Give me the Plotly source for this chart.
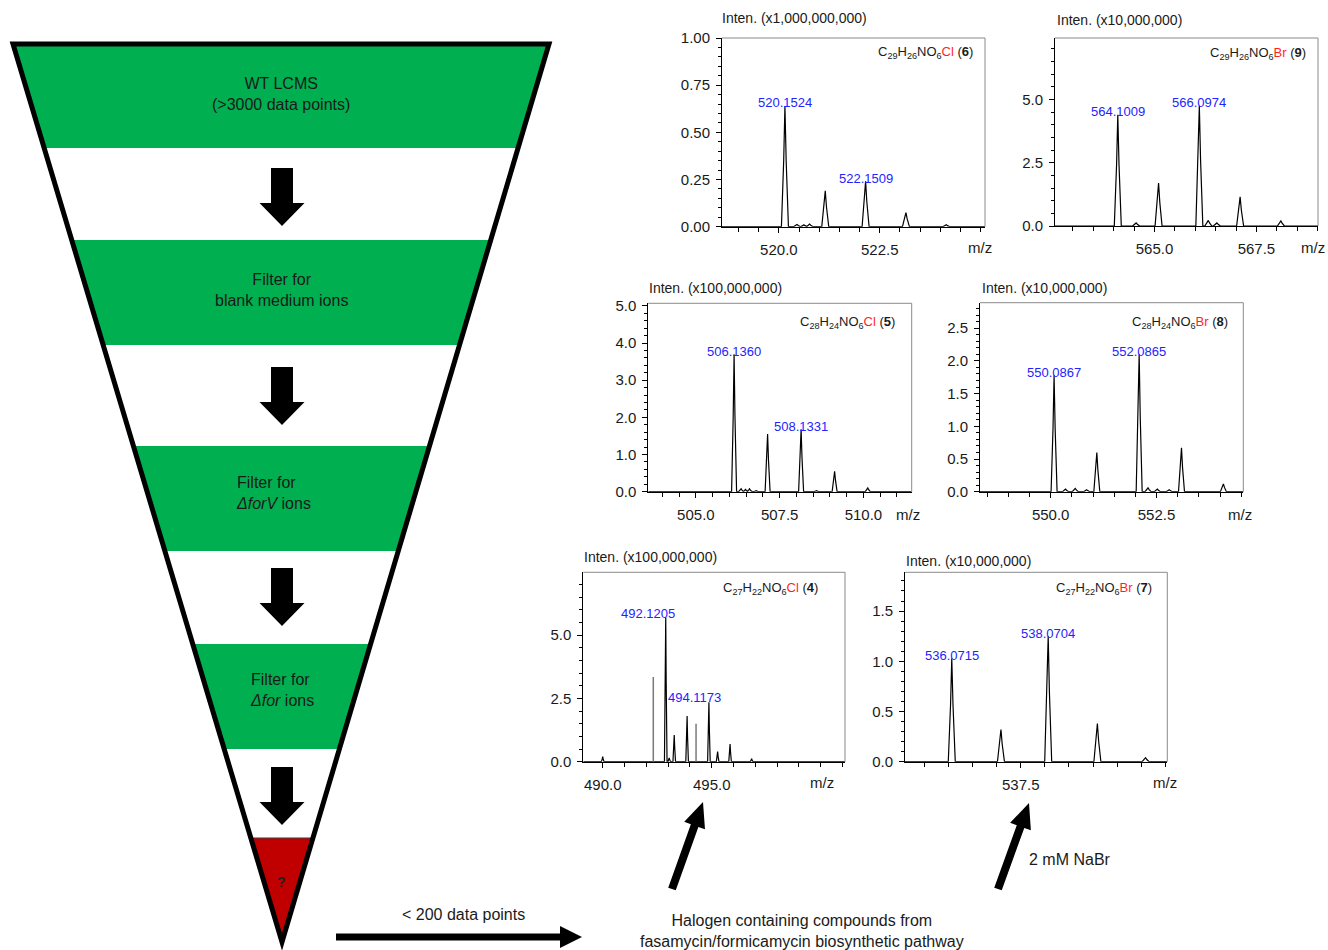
import math
import plotly.graph_objects as go

W, H = 1328, 950
FONT = "Liberation Sans, Arial, Helvetica, sans-serif"

# ---------------- data ----------------
# compound 6 (Cl)  intensity x1,000,000,000
c6_mz = [520.15, 520.45, 520.62, 520.76, 521.15, 522.15, 523.15, 524.15]
c6_int = [0.64, 0.012, 0.010, 0.014, 0.19, 0.24, 0.075, 0.010]
c6_lab = ["520.1524", "522.1509"]
c6_lab_mz = [520.15, 522.15]
c6_lab_int = [0.64, 0.24]

# compound 9 (Br)  intensity x10,000,000
c9_mz = [564.10, 564.55, 565.10, 566.10, 566.32, 566.53, 567.10, 568.10]
c9_int = [4.40, 0.12, 1.70, 4.75, 0.22, 0.12, 1.15, 0.20]
c9_lab = ["564.1009", "566.0974"]
c9_lab_mz = [564.10, 566.10]
c9_lab_int = [4.40, 4.75]

# compound 5 (Cl)  intensity x100,000,000
c5_mz = [506.14, 506.35, 506.48, 506.60, 506.80, 507.14, 508.14, 508.60, 509.14, 510.13]
c5_int = [3.70, 0.08, 0.06, 0.08, 0.03, 1.55, 1.68, 0.03, 0.55, 0.10]
c5_lab = ["506.1360", "508.1331"]
c5_lab_mz = [506.14, 508.14]
c5_lab_int = [3.70, 1.68]

# compound 8 (Br)  intensity x10,000,000
c8_mz = [550.08, 550.35, 550.58, 550.85, 551.09, 552.09, 552.30, 552.52, 552.80, 553.09, 554.08]
c8_int = [1.78, 0.04, 0.05, 0.03, 0.60, 2.10, 0.06, 0.04, 0.03, 0.67, 0.12]
c8_lab = ["550.0867", "552.0865"]
c8_lab_mz = [550.08, 552.09]
c8_lab_int = [1.78, 2.10]

# compound 4 (Cl)  intensity x100,000,000
c4_mz = [490.00, 492.89, 493.05, 493.28, 493.87, 494.87, 495.27, 495.84, 496.83]
c4_int = [0.20, 5.70, 0.15, 1.05, 1.80, 2.35, 0.40, 0.70, 0.12]
c4_stick_mz = [492.32, 494.28]
c4_stick_int = [3.35, 1.50]
c4_lab = ["492.1205", "494.1173"]
c4_lab_mz = [492.07, 494.21]
c4_lab_int = [5.75, 2.42]

# compound 7 (Br)  intensity x10,000,000
c7_mz = [536.07, 537.09, 538.07, 539.09, 540.09]
c7_int = [1.03, 0.32, 1.25, 0.38, 0.04]
c7_lab = ["536.0715", "538.0704"]
c7_lab_mz = [536.07, 538.07]
c7_lab_int = [1.03, 1.25]

scale_texts = ["Inten. (x1,000,000,000)", "Inten. (x10,000,000)", "Inten. (x100,000,000)",
               "Inten. (x10,000,000)", "Inten. (x100,000,000)", "Inten. (x10,000,000)"]
formulas = [("29", "26", "Cl", "6"), ("29", "26", "Br", "9"), ("28", "24", "Cl", "5"),
            ("28", "24", "Br", "8"), ("27", "22", "Cl", "4"), ("27", "22", "Br", "7")]

x_tick_vals = [[520.0, 522.5], [565.0, 567.5], [505.0, 507.5, 510.0],
               [550.0, 552.5], [490.0, 495.0], [537.5]]
y_tick_vals = [[0.00, 0.25, 0.50, 0.75, 1.00], [0.0, 2.5, 5.0], [0.0, 1.0, 2.0, 3.0, 4.0, 5.0],
               [0.0, 0.5, 1.0, 1.5, 2.0, 2.5], [0.0, 2.5, 5.0], [0.0, 0.5, 1.0, 1.5]]
y_tick_fmt = ["{:.2f}", "{:.1f}", "{:.1f}", "{:.1f}", "{:.1f}", "{:.1f}"]

stage_texts = ["WT LCMS<br>(&gt;3000 data points)",
               "Filter for<br>blank medium ions",
               "Filter for<br><i>Δ</i><i>forV</i> ions",
               "Filter for<br><i>Δ</i><i>for</i> ions"]

# ---------------- layout constants (pixels) ----------------
panels = [
    dict(box=(722, 38, 985, 226.7), xr=(518.59, 525.11), yr=(0, 1.0), xminor=0.5, yminor=0.05,
         hw=3.5, scale_pos=(720, 18), mz_pos=(980, 247), f_pos=(975, 52)),
    dict(box=(1055, 38, 1318, 226), xr=(562.56, 569.01), yr=(0, 7.43), xminor=0.5, yminor=0.5,
         hw=3.5, scale_pos=(1055, 20), mz_pos=(1313, 247), f_pos=(1308, 53)),
    dict(box=(648.3, 303.3, 911.7, 491.7), xr=(503.58, 511.44), yr=(0, 5.07), xminor=0.5, yminor=0.2,
         hw=2.5, scale_pos=(647, 288), mz_pos=(908, 514), f_pos=(897, 322)),
    dict(box=(980, 302.7, 1243.3, 491.7), xr=(548.33, 554.55), yr=(0, 2.89), xminor=0.5, yminor=0.1,
         hw=3.0, scale_pos=(980, 288), mz_pos=(1240, 514), f_pos=(1230, 322)),
    dict(box=(583.3, 572.3, 845, 761.7), xr=(489.11, 501.11), yr=(0, 7.48), xminor=1.0, yminor=0.5,
         hw=1.3, scale_pos=(582, 557), mz_pos=(822, 782), f_pos=(820, 588)),
    dict(box=(905, 572.3, 1167.3, 761.7), xr=(535.1, 540.54), yr=(0, 1.886), xminor=0.5, yminor=0.1,
         hw=3.5, scale_pos=(904, 561), mz_pos=(1165, 782), f_pos=(1154, 588)),
]
spectra = [(c6_mz, c6_int), (c9_mz, c9_int), (c5_mz, c5_int),
           (c8_mz, c8_int), (c4_mz, c4_int), (c7_mz, c7_int)]
labels = [(c6_lab, c6_lab_mz, c6_lab_int), (c9_lab, c9_lab_mz, c9_lab_int),
          (c5_lab, c5_lab_mz, c5_lab_int), (c8_lab, c8_lab_mz, c8_lab_int),
          (c4_lab, c4_lab_mz, c4_lab_int), (c7_lab, c7_lab_mz, c7_lab_int)]

GREEN = "#00AF50"
RED = "#C00000"
BLUE = "#2323ff"
TXT = "#1a1a1a"

fig = go.Figure()
layout = dict(width=W, height=H, margin=dict(l=0, r=0, t=0, b=0, pad=0, autoexpand=False),
              paper_bgcolor="white", plot_bgcolor="rgba(0,0,0,0)", showlegend=False,
              font=dict(family=FONT, color=TXT))
shapes = []
annotations = []


def profile(mz, inten, hw, xr):
    pairs = sorted(zip(mz, inten))
    xs, ys = [xr[0]], [0]
    for m, h in pairs:
        xs += [m - hw, m - hw * 0.35, m, m + hw * 0.35, m + hw]
        ys += [0, h * 0.55, h, h * 0.55, 0]
    xs.append(xr[1])
    ys.append(0)
    return xs, ys


for i, (p, (mz, inten)) in enumerate(zip(panels, spectra), start=1):
    xa = "x" if i == 1 else f"x{i}"
    ya = "y" if i == 1 else f"y{i}"
    xkey = "xaxis" if i == 1 else f"xaxis{i}"
    ykey = "yaxis" if i == 1 else f"yaxis{i}"
    L, T, R, B = p["box"]
    px_per_unit = (R - L) / (p["xr"][1] - p["xr"][0])
    hw = p["hw"] / px_per_unit
    xs, ys = profile(mz, inten, hw, p["xr"])
    fig.add_trace(go.Scatter(x=xs, y=ys, mode="lines", line=dict(color="black", width=1.2),
                             xaxis=xa, yaxis=ya, hoverinfo="skip"))
    if i == 5:
        sx, sy = [], []
        for m, h in zip(c4_stick_mz, c4_stick_int):
            sx += [m, m, None]
            sy += [0, h, None]
        fig.add_trace(go.Scatter(x=sx, y=sy, mode="lines", line=dict(color="#7a7a7a", width=1.5),
                                 xaxis=xa, yaxis=ya, hoverinfo="skip"))
    tickfont = dict(size=15, color=TXT, family=FONT)
    layout[xkey] = dict(domain=[L / W, R / W], anchor=ya, range=list(p["xr"]), showline=True,
                        linecolor="black", linewidth=1, ticks="outside", ticklen=5, tickcolor="black",
                        tickmode="array", tickvals=x_tick_vals[i - 1],
                        ticktext=["{:.1f}".format(v) for v in x_tick_vals[i - 1]],
                        tickfont=tickfont, showgrid=False, zeroline=False, fixedrange=True,
                        ticklabelstandoff=4, automargin=False,
                        minor=dict(dtick=p["xminor"], tick0=0, ticks="outside", ticklen=4,
                                   tickcolor="black", showgrid=False))
    layout[ykey] = dict(domain=[1 - B / H, 1 - T / H], anchor=xa, range=list(p["yr"]), showline=True,
                        linecolor="black", linewidth=1, ticks="outside", ticklen=5, tickcolor="black",
                        tickmode="array", tickvals=y_tick_vals[i - 1],
                        ticktext=[y_tick_fmt[i - 1].format(v) for v in y_tick_vals[i - 1]],
                        tickfont=tickfont, showgrid=False, zeroline=False, fixedrange=True,
                        ticklabelstandoff=3, automargin=False,
                        minor=dict(dtick=p["yminor"], tick0=0, ticks="outside", ticklen=3,
                                   tickcolor="black", showgrid=False))
    # grey frame top/right
    shapes.append(dict(type="line", xref=f"{xa} domain", yref=f"{ya} domain", x0=0, x1=1, y0=1, y1=1,
                       line=dict(color="#8a8a8a", width=1)))
    shapes.append(dict(type="line", xref=f"{xa} domain", yref=f"{ya} domain", x0=1, x1=1, y0=0, y1=1,
                       line=dict(color="#8a8a8a", width=1)))
    # peak labels
    for txt, lx, ly in zip(*labels[i - 1]):
        annotations.append(dict(x=lx, y=ly, xref=xa, yref=ya, text=txt, showarrow=False,
                                xanchor="center", yanchor="middle", yshift=3,
                                font=dict(size=13, color=BLUE, family=FONT)))
    # formula
    c, h, hal, num = formulas[i - 1]
    ftxt = (f"C<sub>{c}</sub>H<sub>{h}</sub>NO<sub>6</sub>"
            f"<span style='color:#ff1f1f'>{hal}</span> (<b>{num}</b>)")
    annotations.append(dict(x=p["f_pos"][0], y=p["f_pos"][1], xref="x7", yref="y7", text=ftxt,
                            showarrow=False, xanchor="right", yanchor="middle",
                            font=dict(size=13, color=TXT, family=FONT)))
    annotations.append(dict(x=p["scale_pos"][0], y=p["scale_pos"][1], xref="x7", yref="y7",
                            text=scale_texts[i - 1], showarrow=False, xanchor="left", yanchor="middle",
                            font=dict(size=14, color=TXT, family=FONT)))
    annotations.append(dict(x=p["mz_pos"][0], y=p["mz_pos"][1], xref="x7", yref="y7", text="m/z",
                            showarrow=False, xanchor="center", yanchor="middle",
                            font=dict(size=15, color=TXT, family=FONT)))

# ---------------- overlay pixel axis for the diagram ----------------
fig.add_trace(go.Scatter(x=[None], y=[None], xaxis="x7", yaxis="y7", mode="markers",
                         hoverinfo="skip"))
layout["xaxis7"] = dict(domain=[0, 1], range=[0, W], visible=False, anchor="y7", fixedrange=True,
                        automargin=False)
layout["yaxis7"] = dict(domain=[0, 1], range=[H, 0], visible=False, anchor="x7", fixedrange=True,
                        automargin=False)

FT_L, FT_R, FT_Y, APEX_X, APEX_Y = 13, 549, 44, 282, 942


def left_x(y):
    return FT_L + (APEX_X - FT_L) * (y - FT_Y) / (APEX_Y - FT_Y)


def right_x(y):
    return FT_R - (FT_R - APEX_X) * (y - FT_Y) / (APEX_Y - FT_Y)


def poly(pts):
    return "M " + " L ".join(f"{x:.2f},{y:.2f}" for x, y in pts) + " Z"


band_spans = [(44, 148), (240, 345), (446, 551), (644, 749)]
for (y0, y1) in band_spans:
    shapes.append(dict(type="path", xref="x7", yref="y7", layer="above",
                       path=poly([(left_x(y0), y0), (right_x(y0), y0), (right_x(y1), y1), (left_x(y1), y1)]),
                       fillcolor=GREEN, line=dict(width=0)))
# red tip
shapes.append(dict(type="path", xref="x7", yref="y7", layer="above",
                   path=poly([(left_x(838), 838), (right_x(838), 838), (APEX_X, APEX_Y)]),
                   fillcolor=RED, line=dict(width=0)))
shapes.append(dict(type="line", xref="x7", yref="y7", layer="above",
                   x0=left_x(838), x1=right_x(838), y0=838, y1=838, line=dict(color="#3a3a3a", width=1)))
# funnel outline
shapes.append(dict(type="path", xref="x7", yref="y7", layer="above",
                   path=poly([(FT_L, FT_Y), (FT_R, FT_Y), (APEX_X, APEX_Y)]),
                   fillcolor="rgba(0,0,0,0)", line=dict(color="black", width=5)))


def arrow_path(x0, y0, x1, y1, sw, hw, hl):
    dx, dy = x1 - x0, y1 - y0
    ln = math.hypot(dx, dy)
    ux, uy = dx / ln, dy / ln
    nx, ny = -uy, ux
    bx, by = x1 - ux * hl, y1 - uy * hl
    pts = [(x0 + nx * sw / 2, y0 + ny * sw / 2), (bx + nx * sw / 2, by + ny * sw / 2),
           (bx + nx * hw / 2, by + ny * hw / 2), (x1, y1),
           (bx - nx * hw / 2, by - ny * hw / 2), (bx - nx * sw / 2, by - ny * sw / 2),
           (x0 - nx * sw / 2, y0 - ny * sw / 2)]
    return poly(pts)


for top in [168, 367, 568, 767]:
    shapes.append(dict(type="path", xref="x7", yref="y7", layer="above",
                       path=arrow_path(282, top, 282, top + 58, 22, 45, 23),
                       fillcolor="black", line=dict(width=0)))

shapes.append(dict(type="path", xref="x7", yref="y7", layer="above",
                   path=arrow_path(336, 937, 582, 937, 7, 22, 22), fillcolor="black", line=dict(width=0)))
shapes.append(dict(type="path", xref="x7", yref="y7", layer="above",
                   path=arrow_path(672, 889, 703, 802, 8, 22, 25), fillcolor="black", line=dict(width=0)))
shapes.append(dict(type="path", xref="x7", yref="y7", layer="above",
                   path=arrow_path(998, 889, 1029, 803, 8, 22, 25), fillcolor="black", line=dict(width=0)))

# funnel texts
annotations.append(dict(x=281, y=94, xref="x7", yref="y7", text=stage_texts[0], showarrow=False,
                        xanchor="center", yanchor="middle", align="center",
                        font=dict(size=16, color=TXT, family=FONT)))
annotations.append(dict(x=281, y=290, xref="x7", yref="y7", text=stage_texts[1], showarrow=False,
                        xanchor="center", yanchor="middle", align="center",
                        font=dict(size=16, color=TXT, family=FONT)))
annotations.append(dict(x=234, y=493, xref="x7", yref="y7", text=stage_texts[2], showarrow=False,
                        xanchor="left", yanchor="middle", align="left",
                        font=dict(size=16, color=TXT, family=FONT)))
annotations.append(dict(x=248, y=690, xref="x7", yref="y7", text=stage_texts[3], showarrow=False,
                        xanchor="left", yanchor="middle", align="left",
                        font=dict(size=16, color=TXT, family=FONT)))
annotations.append(dict(x=281, y=882, xref="x7", yref="y7", text="<b>?</b>", showarrow=False,
                        xanchor="center", yanchor="middle", font=dict(size=14, color="#222", family=FONT)))
annotations.append(dict(x=463, y=914, xref="x7", yref="y7", text="&lt; 200 data points", showarrow=False,
                        xanchor="center", yanchor="middle", font=dict(size=16, color=TXT, family=FONT)))
annotations.append(dict(x=802, y=931, xref="x7", yref="y7",
                        text="Halogen containing compounds from<br>fasamycin/formicamycin biosynthetic pathway",
                        showarrow=False, xanchor="center", yanchor="middle", align="center",
                        font=dict(size=16, color=TXT, family=FONT)))
annotations.append(dict(x=1027, y=859, xref="x7", yref="y7", text="2 mM NaBr", showarrow=False,
                        xanchor="left", yanchor="middle", font=dict(size=16, color=TXT, family=FONT)))

layout["shapes"] = shapes
layout["annotations"] = annotations
fig.update_layout(**layout)
fig.write_html("out.html", config={"displayModeBar": False, "staticPlot": True},
               post_script="document.body.style.margin='0';document.body.style.padding='0';")
